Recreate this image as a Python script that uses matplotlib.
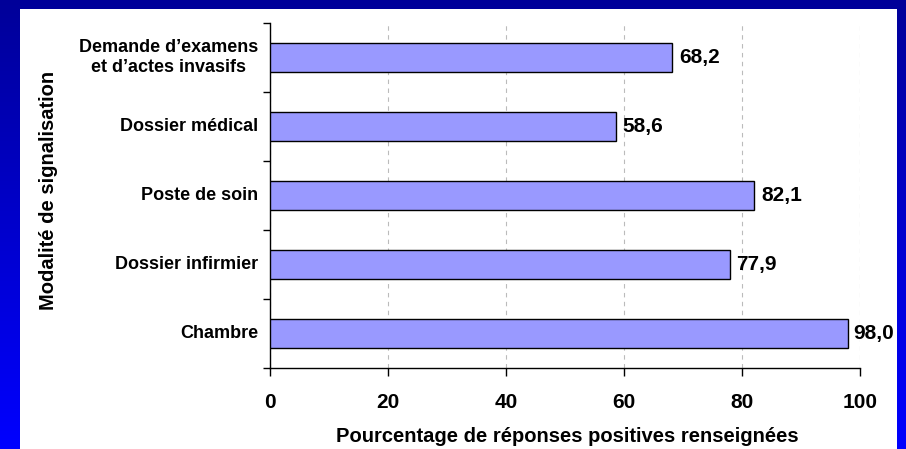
import numpy as np
import matplotlib
matplotlib.use("Agg")
import matplotlib.pyplot as plt
from matplotlib.patches import Rectangle
from matplotlib.transforms import offset_copy

categories = ["Chambre", "Dossier infirmier", "Poste de soin", "Dossier médical",
              "Demande d\u2019examens\net d\u2019actes invasifs"]
values = [98.0, 77.9, 82.1, 58.6, 68.2]
xticks = [0, 20, 40, 60, 80, 100]
xlabel = "Pourcentage de réponses positives renseignées"
ylabel = "Modalité de signalisation"

plt.rcParams['font.family'] = ['Liberation Sans', 'DejaVu Sans']

W, H = 906, 449
fig = plt.figure(figsize=(W / 100, H / 100), dpi=100)

# gradient background
bg = fig.add_axes([0, 0, 1, 1], zorder=0)
grad = np.linspace(0, 1, 256).reshape(-1, 1)
top = np.array([0x00, 0x00, 0x99]) / 255
bot = np.array([0x00, 0x00, 0xFF]) / 255
img = top[None, None, :] * (1 - grad[:, :, None]) + bot[None, None, :] * grad[:, :, None]
bg.imshow(img, aspect='auto', extent=[0, 1, 0, 1], origin='upper')
bg.add_patch(Rectangle((20 / W, 0), 877 / W, (H - 9) / H, facecolor='white',
                       edgecolor='none', transform=bg.transAxes))
bg.set_xlim(0, 1); bg.set_ylim(0, 1)
bg.axis('off')

ax = fig.add_axes([270 / W, 1 - 368 / H, 590 / W, 345 / H], zorder=1)
ax.set_facecolor('none')
y = np.arange(len(categories))
ax.barh(y, values, height=0.42, color='#9999FF', edgecolor='black', linewidth=1.0, zorder=3)

ax.set_xlim(0, 100)
ax.set_ylim(-0.5, len(categories) - 0.5)

labels = []
for yi, v in zip(y, values):
    t = ax.text(v, yi, f"{v:.1f}".replace('.', ','), va='center', ha='left',
                fontsize=15, fontweight='bold', zorder=4,
                transform=offset_copy(ax.transData, fig=fig, x=5, y=0, units='points'))
    labels.append((t, v, yi))

ax.set_xticks(xticks)
ax.set_xticklabels([str(t) for t in xticks], fontsize=15, fontweight='bold')
ax.tick_params(axis='x', direction='out', length=6, width=1, pad=12)
ax.set_yticks(np.arange(-0.5, len(categories), 1.0))
ax.set_yticklabels([])
ax.tick_params(axis='y', direction='out', length=5, width=1)
for yi, c in zip(y, categories):
    ax.text(-0.02, yi, c, transform=ax.get_yaxis_transform(), ha='right', va='center',
            multialignment='center', fontsize=13, fontweight='bold', linespacing=1.3)

ax.grid(axis='x', color='#BBBBBB', linestyle=(0, (4, 4)), linewidth=0.8, zorder=0)
ax.spines['top'].set_visible(False)
ax.spines['right'].set_visible(False)
ax.spines['left'].set_linewidth(1)
ax.spines['bottom'].set_linewidth(1)

fig.text(567 / W, 1 - 437 / H, xlabel, ha='center', va='center', fontsize=14.5, fontweight='bold')
fig.text(49 / W, 1 - 190 / H, ylabel, ha='center', va='center', rotation=90,
         fontsize=14.5, fontweight='bold')

# keep value labels inside the white panel
fig.canvas.draw()
renderer = fig.canvas.get_renderer()
limit = 894
for t, v, yi in labels:
    bb = t.get_window_extent(renderer)
    if bb.x1 > limit:
        shift_pts = (bb.x1 - limit) * 72 / fig.dpi
        t.set_transform(offset_copy(ax.transData, fig=fig, x=5 - shift_pts, y=0, units='points'))

fig.savefig('out.png', dpi=100)
